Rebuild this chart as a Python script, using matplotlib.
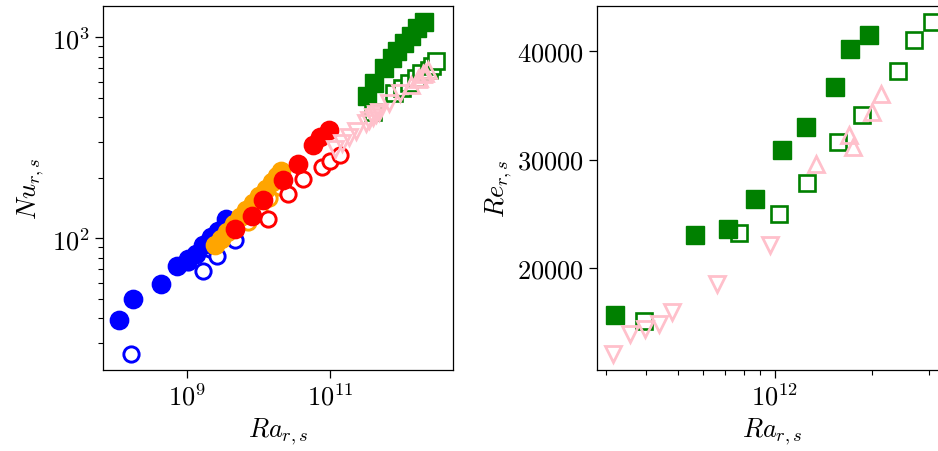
import matplotlib
matplotlib.use("Agg")
import matplotlib.pyplot as plt
import matplotlib.ticker as mticker

plt.rcParams['mathtext.fontset'] = 'cm'
plt.rcParams['font.family'] = 'serif'
plt.rcParams['font.serif'] = ['cmr10', 'DejaVu Serif']
plt.rcParams['axes.formatter.use_mathtext'] = True
plt.rcParams['font.size'] = 19

# ---------------- Left panel: Nu vs Ra ----------------
ra_blue_f = [1.11e8, 1.76e8, 4.37e8, 7.24e8, 1.03e9, 1.35e9, 1.66e9, 2.19e9, 2.69e9, 3.55e9]
nu_blue_f = [38.9, 49.5, 59.3, 73.0, 78.9, 83.6, 91.9, 101, 109, 125]
ra_blue_o = [1.63e8, 1.04e9, 1.69e9, 2.10e9, 2.60e9, 4.69e9]
nu_blue_o = [26.5, 76, 68.2, 88.5, 81.8, 97.3]

ra_orange_f = [2.45e9, 2.95e9, 3.63e9, 4.47e9, 5.50e9, 6.76e9, 8.32e9, 1.02e10, 1.26e10, 1.55e10, 1.82e10, 2.09e10]
nu_orange_f = [92, 99, 107, 117, 127, 138, 150, 162, 176, 190, 203, 216]
ra_orange_o = [7.1e9, 1.0e10, 1.41e10, 2.0e10]
nu_orange_o = [120, 138, 158, 180]

ra_red_f = [4.69e9, 8.04e9, 1.17e10, 2.22e10, 3.61e10, 5.83e10, 7.24e10, 9.77e10]
nu_red_f = [111, 129, 154, 194, 234, 289, 318, 343]
ra_red_o = [1.37e10, 2.61e10, 4.24e10, 7.66e10, 1.0e11, 1.38e11]
nu_red_o = [125, 166, 197, 225, 243, 258]

ra_green_f_nu = [3.33e11, 4.12e11, 5.69e11, 7.43e11, 8.73e11, 1.08e12, 1.35e12, 1.66e12, 2.07e12]
nu_green_f = [508, 593, 704, 790, 851, 937, 1012, 1112, 1195]
ra_green_o_nu = [3.94e11, 7.74e11, 1.03e12, 1.26e12, 1.57e12, 1.86e12, 2.41e12, 2.70e12, 3.07e12]
nu_green_o = [425, 529, 560, 593, 627, 664, 687, 715, 760]

ra_pink_dn_nu = [1.17e11, 1.48e11, 1.86e11, 2.29e11, 3.16e11, 3.56e11, 3.96e11, 4.36e11, 4.79e11, 6.61e11, 9.66e11]
nu_pink_dn = [278, 297, 319, 340, 374, 388, 402, 414, 426, 468, 526]
ra_pink_up_nu = [1.34e12, 1.69e12, 1.75e12, 2.0e12, 2.13e12, 2.37e12]
nu_pink_up = [579, 621, 627, 654, 666, 682]

# ---------------- Right panel: Re vs Ra ----------------
ra_green_f_re = [3.20e11, 5.65e11, 7.16e11, 8.67e11, 1.05e12, 1.25e12, 1.53e12, 1.71e12, 1.95e12]
re_green_f = [15630, 23000, 23560, 26390, 30840, 33000, 36680, 40210, 41500]
ra_green_o_re = [3.94e11, 7.74e11, 1.03e12, 1.26e12, 1.57e12, 1.86e12, 2.41e12, 2.70e12, 3.07e12]
re_green_o = [15080, 23230, 25000, 27860, 31610, 34130, 38160, 41040, 42670]
ra_pink_dn_re = [3.16e11, 3.56e11, 3.96e11, 4.36e11, 4.79e11, 6.61e11, 9.66e11]
re_pink_dn = [12100, 13950, 14410, 14870, 15950, 18530, 22080]
ra_pink_up_re = [1.34e12, 1.69e12, 1.75e12, 2.0e12, 2.13e12]
re_pink_up = [29610, 32220, 31150, 34380, 36070]

fig = plt.figure(figsize=(9.38, 4.52), dpi=100)
W, H = 938, 452
ax1 = fig.add_axes([103 / W, (H - 370.7) / H, 350 / W, 364 / H])
ax2 = fig.add_axes([597 / W, (H - 370.7) / H, 350 / W, 364 / H])

def filled(ax, x, y, c, m='o', ms=13.2):
    ax.plot(x, y, ls='none', marker=m, ms=ms, mfc=c, mec=c, mew=1.0)

def hollow(ax, x, y, c, m='o', ms=11.0, fc='white', mew=2.1):
    ax.plot(x, y, ls='none', marker=m, ms=ms, mfc=fc, mec=c, mew=mew)

hollow(ax1, ra_blue_o, nu_blue_o, 'blue')
filled(ax1, ra_blue_f, nu_blue_f, 'blue')
hollow(ax1, ra_orange_o, nu_orange_o, 'orange')
filled(ax1, ra_orange_f, nu_orange_f, 'orange')
hollow(ax1, ra_red_o, nu_red_o, 'red')
filled(ax1, ra_red_f, nu_red_f, 'red')
hollow(ax1, ra_green_o_nu, nu_green_o, 'green', m='s', ms=11.5, mew=1.9)
filled(ax1, ra_green_f_nu, nu_green_f, 'green', m='s', ms=12.5)
hollow(ax1, ra_pink_dn_nu, nu_pink_dn, 'pink', m='v', ms=12, fc='none', mew=2.0)
hollow(ax1, ra_pink_up_nu, nu_pink_up, 'pink', m='^', ms=12, fc='none', mew=2.0)

ax1.set_xscale('log')
ax1.set_yscale('log')
ax1.set_xlim(10 ** 7.825, 10 ** 12.72)
ax1.set_ylim(10 ** 1.345, 10 ** 3.156)
ax1.xaxis.set_major_locator(mticker.FixedLocator([1e9, 1e11]))
ax1.xaxis.set_minor_locator(mticker.NullLocator())
ax1.set_xlabel(r'$Ra_{r,s}$')
ax1.set_ylabel(r'$Nu_{r,s}$')

hollow(ax2, ra_green_o_re, re_green_o, 'green', m='s', ms=11.5, mew=1.9)
filled(ax2, ra_green_f_re, re_green_f, 'green', m='s', ms=12.5)
hollow(ax2, ra_pink_dn_re, re_pink_dn, 'pink', m='v', ms=12, fc='none', mew=2.0)
hollow(ax2, ra_pink_up_re, re_pink_up, 'pink', m='^', ms=12, fc='none', mew=2.0)
ax2.set_xscale('log')
ax2.set_xlim(10 ** 11.449, 10 ** 12.5325)
ax2.set_ylim(10627, 44175)
ax2.yaxis.set_major_locator(mticker.FixedLocator([20000, 30000, 40000]))
ax2.yaxis.set_major_formatter(mticker.FuncFormatter(lambda v, p: r'$%d$' % v))
ax2.set_xlabel(r'$Ra_{r,s}$')
ax2.set_ylabel(r'$Re_{r,s}$', labelpad=2)

for ax in (ax1, ax2):
    ax.tick_params(which='major', length=6, width=0.9, labelsize=19)
    ax.tick_params(which='minor', length=3.5, width=0.8)
    for s in ax.spines.values():
        s.set_linewidth(0.9)

fig.savefig('out.png', dpi=100)
